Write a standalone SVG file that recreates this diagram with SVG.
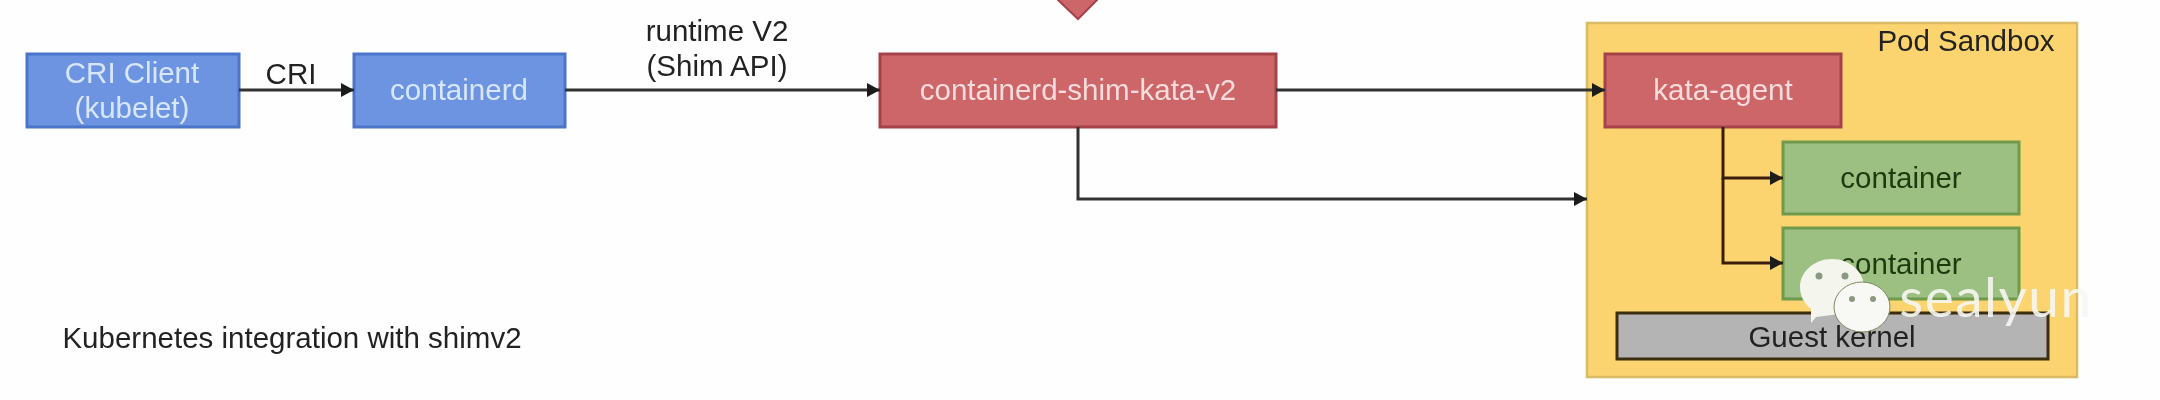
<svg xmlns="http://www.w3.org/2000/svg" width="2160" height="400" viewBox="0 0 2160 400">
<defs>
<marker id="arrow" markerUnits="userSpaceOnUse" markerWidth="14" markerHeight="16" refX="13" refY="8" orient="auto"><path d="M0 1 L13 8 L0 15 Z" fill="#1c1c1c"/></marker>
<filter id="soft" x="0" y="0" width="100%" height="100%" filterUnits="userSpaceOnUse"><feGaussianBlur stdDeviation="0.7"/></filter>
</defs>
<style>
text{font-family:"Liberation Sans",Arial,sans-serif;font-size:29.5px;text-anchor:middle}
.lab{fill:#222}
.lt{fill:#f6dcdc}
.blue{fill:#6d94e0;stroke:#4c74c8;stroke-width:3}
.red{fill:#cd6668;stroke:#a5434a;stroke-width:3}
.green{fill:#9cbf82;stroke:#709a4c;stroke-width:3}
.pod{fill:#fbd46f;stroke:#dcb964;stroke-width:2.5}
.gray{fill:#b4b4b4;stroke:#3a2d10;stroke-width:3}
.line{fill:none;stroke:#333;stroke-width:3;marker-end:url(#arrow)}
.inner{stroke:#3a1f08}
</style>
<rect width="2160" height="400" fill="#fefefe"/>
<g filter="url(#soft)">
<g id="pod-sandbox"><rect class="pod" x="1587" y="23" width="490" height="354"/><text class="lab" x="1966" y="51">Pod Sandbox</text></g>
<g id="cri-client"><rect class="blue" x="27" y="54" width="212" height="73"/><text fill="#d8e6fa" x="132" y="83">CRI Client</text><text fill="#d8e6fa" x="132" y="118">(kubelet)</text></g>
<g id="containerd"><rect class="blue" x="354" y="54" width="211" height="73"/><text fill="#d8e6fa" x="459" y="100">containerd</text></g>
<g id="shim"><rect class="red" x="880" y="54" width="396" height="73"/><text class="lt" x="1078" y="100">containerd-shim-kata-v2</text></g>
<g id="marker-triangle"><path d="M1057 -1 L1078 19 L1098 -1 Z" fill="#cd6668" stroke="#a5434a" stroke-width="2"/></g>
<g id="kata-agent"><rect class="red" x="1605" y="54" width="236" height="73"/><text class="lt" x="1723" y="100">kata-agent</text></g>
<g id="container-1"><rect class="green" x="1783" y="142" width="236" height="72"/><text fill="#1d3a10" x="1901" y="188">container</text></g>
<g id="container-2"><rect class="green" x="1783" y="228" width="236" height="71"/><text fill="#1d3a10" x="1901" y="274">container</text></g>
<g id="guest-kernel"><rect class="gray" x="1617" y="313" width="431" height="46"/><text fill="#222" x="1832" y="347">Guest kernel</text></g>
<g id="connectors">
<path class="line" d="M239 90 H354"/>
<path class="line" d="M565 90 H880"/>
<path class="line" d="M1276 90 H1605"/>
<path class="line" d="M1078 127 V199 H1587"/>
<path class="line inner" d="M1723 127 V178 H1783"/>
<path class="line inner" d="M1723 178 V263 H1783"/>
</g>
<g id="labels">
<text class="lab" x="291" y="84">CRI</text>
<text class="lab" x="717" y="41">runtime V2</text>
<text class="lab" x="717" y="76">(Shim API)</text>
<text class="lab" x="292" y="348">Kubernetes integration with shimv2</text>
</g>
<g id="watermark">
<path d="M1832 259 C1850 259 1864 272 1864 287 C1864 302 1850 315 1832 315 L1816 317 L1811 323 L1811 309 C1804 303 1800 296 1800 287 C1800 272 1814 259 1832 259 Z" fill="#f4f6ee"/>
<ellipse cx="1862" cy="307" rx="28" ry="25" fill="#f8f8f4" stroke="#7a8a60" stroke-width="1"/>
<circle cx="1819" cy="276" r="3.5" fill="#8a9a80"/><circle cx="1845" cy="276" r="3.5" fill="#8a9a80"/>
<circle cx="1852" cy="299" r="3" fill="#8a9a80"/><circle cx="1873" cy="299" r="3" fill="#8a9a80"/>
<text x="1996" y="317" style="font-family:'Lato',sans-serif;font-size:55px;font-weight:400;fill:#f6f6f2;fill-opacity:.9;letter-spacing:1.5px">sealyun</text>
</g>
</g>
</svg>
